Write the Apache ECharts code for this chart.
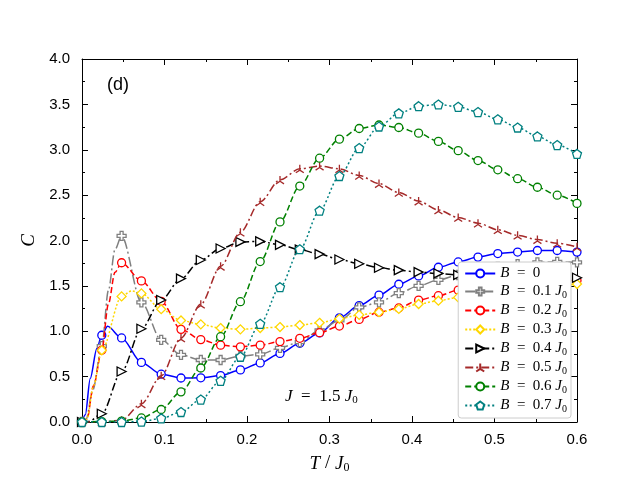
<!DOCTYPE html>
<html>
<head>
<meta charset="utf-8">
<script src="https://cdn.jsdelivr.net/npm/echarts@6/dist/echarts.min.js"></script>
<style>
  html, body { margin: 0; padding: 0; background: #fff; }
  #chart { width: 641px; height: 479px; }
</style>
</head>
<body>
<div id="chart"></div>
<script>
// temperatures (T / J0) where the markers sit
const tMarks = [0.000, 0.024, 0.048, 0.072, 0.096, 0.120, 0.144, 0.168, 0.192, 0.216,
                0.240, 0.264, 0.288, 0.312, 0.336, 0.360, 0.384, 0.408, 0.432, 0.456,
                0.480, 0.504, 0.528, 0.552, 0.576, 0.600];

// specific heat C, one array per field B
const cB00 = [0, 0.956, 0.926, 0.657, 0.527, 0.485, 0.487, 0.512, 0.574, 0.651,
              0.756, 0.868, 0.981, 1.148, 1.283, 1.398, 1.518, 1.610, 1.705, 1.764,
              1.817, 1.856, 1.873, 1.890, 1.890, 1.872];
const cB01 = [0, 0.835, 2.050, 1.319, 0.905, 0.740, 0.683, 0.683, 0.727, 0.745,
              0.817, 0.880, 1.010, 1.119, 1.264, 1.319, 1.420, 1.500, 1.566, 1.620,
              1.670, 1.710, 1.740, 1.760, 1.765, 1.760];
const cB02 = [0, 0.792, 1.755, 1.555, 1.330, 1.021, 0.908, 0.847, 0.828, 0.847,
              0.886, 0.922, 0.984, 1.057, 1.130, 1.210, 1.257, 1.344, 1.392, 1.453,
              1.490, 1.520, 1.540, 1.550, 1.560, 1.560];
const cB03 = [0, 0.790, 1.384, 1.417, 1.243, 1.119, 1.076, 1.035, 1.021, 1.035,
              1.046, 1.068, 1.093, 1.137, 1.180, 1.210, 1.246, 1.300, 1.337, 1.373,
              1.410, 1.440, 1.460, 1.480, 1.500, 1.520];
const cB04 = [0, 0.091, 0.556, 1.028, 1.344, 1.580, 1.785, 1.912, 1.984, 1.990,
              1.952, 1.900, 1.850, 1.791, 1.744, 1.700, 1.673, 1.652, 1.637, 1.621,
              1.610, 1.600, 1.600, 1.595, 1.590, 1.590];
const cB05 = [0, 0, 0.020, 0.200, 0.509, 0.925, 1.297, 1.715, 2.090, 2.427,
              2.668, 2.790, 2.820, 2.790, 2.717, 2.627, 2.529, 2.434, 2.336, 2.253,
              2.191, 2.118, 2.057, 2.010, 1.970, 1.930];
const cB06 = [0, 0.005, 0.010, 0.045, 0.138, 0.332, 0.595, 0.940, 1.326, 1.768,
              2.205, 2.600, 2.907, 3.117, 3.234, 3.273, 3.245, 3.183, 3.092, 2.990,
              2.881, 2.779, 2.681, 2.587, 2.499, 2.409];
const cB07 = [0, 0, 0, 0.005, 0.040, 0.110, 0.247, 0.454, 0.719, 1.082,
              1.486, 1.904, 2.329, 2.711, 3.019, 3.256, 3.401, 3.480, 3.499, 3.473,
              3.415, 3.335, 3.245, 3.147, 3.052, 2.954];

// extra points between markers (line only), [T, C]
const xB00 = [[0.004, 0.08], [0.010, 0.48], [0.018, 0.81], [0.031, 1.054]];
const xB01 = [[0.005, 0.03], [0.013, 0.35], [0.032, 1.45], [0.040, 1.90]];
const xB02 = [[0.006, 0.03], [0.014, 0.40], [0.032, 1.30], [0.040, 1.65]];
const xB03 = [[0.006, 0.03], [0.014, 0.40], [0.060, 1.445]];
const xB04 = [[0.008, 0.005]];

const names = ['B = 0', 'B = 0.1 J0', 'B = 0.2 J0', 'B = 0.3 J0',
               'B = 0.4 J0', 'B = 0.5 J0', 'B = 0.6 J0', 'B = 0.7 J0'];

const xTicks = ['0.0', '0.1', '0.2', '0.3', '0.4', '0.5', '0.6'];
const yTicks = ['0.0', '0.5', '1.0', '1.5', '2.0', '2.5', '3.0', '3.5', '4.0'];

const curves = [
  { c: cB00, extra: xB00, color: '#0000ff', dash: 'solid',          sym: 'circle' },
  { c: cB01, extra: xB01, color: '#808080', dash: [10, 3, 2, 3],    sym: 'path://M-1,-3 L1,-3 L1,-1 L3,-1 L3,1 L1,1 L1,3 L-1,3 L-1,1 L-3,1 L-3,-1 L-1,-1 Z', size: 9 },
  { c: cB02, extra: xB02, color: '#ff0000', dash: [6, 3],           sym: 'circle' },
  { c: cB03, extra: xB03, color: '#ffd700', dash: [2, 2],           sym: 'diamond', size: 9 },
  { c: cB04, extra: xB04, color: '#000000', dash: [8, 3, 2, 3],     sym: 'path://M1,0 L-1,-1 L-1,1 Z', size: 9 },
  { c: cB05, extra: [],   color: '#a52a2a', dash: [8, 3, 2, 3],     sym: 'path://M0,0 L0,-1 M0,0 L-0.866,0.5 M0,0 L0.866,0.5', size: 8 },
  { c: cB06, extra: [],   color: '#008000', dash: [6, 3],           sym: 'circle' },
  { c: cB07, extra: [],   color: '#008080', dash: [2, 2.5],         sym: 'path://M0,-1 L0.951,-0.309 L0.588,0.809 L-0.588,0.809 L-0.951,-0.309 Z', size: 9 }
];

const serif = 'Liberation Serif';
const mathRich = {
  i: { fontFamily: serif, fontStyle: 'italic', fontSize: 15, color: '#000' },
  n: { fontFamily: serif, fontSize: 15, color: '#000' },
  s: { fontFamily: serif, fontSize: 10, color: '#000', verticalAlign: 'bottom', padding: [7, 0, 0, 0] }
};

function mathLabel(name) {
  // 'B = 0.1 J0' -> rich text with italic letters and subscript
  const parts = name.split(' ');
  let out = '{i|' + parts[0] + '}{n|  =  ' + parts[2] + '}';
  if (parts[3]) out += '{n| }{i|J}{s|0}';
  return out;
}

const series = curves.map(function (cv, idx) {
  const data = tMarks.map(function (t, k) { return { value: [t, cv.c[k]] }; });
  cv.extra.forEach(function (p) { data.push({ value: p, symbol: 'none' }); });
  data.sort(function (a, b) { return a.value[0] - b.value[0]; });
  return {
    name: names[idx],
    type: 'line',
    data: data,
    smooth: 0.3,
    smoothMonotone: 'x',
    symbol: cv.sym,
    symbolSize: cv.size || 8,
    showAllSymbol: true,
    lineStyle: { color: cv.color, width: 1.5, type: cv.dash },
    itemStyle: { color: '#fff', borderColor: cv.color, borderWidth: 1.3 },
    emphasis: { disabled: true },
    z: 2 + idx * 0.01
  };
});

const axisLine = { show: true, onZero: false, lineStyle: { color: '#000', width: 1 } };
const tick = { show: true, inside: true, length: 6, lineStyle: { color: '#000' } };
const minor = { show: true, splitNumber: 2, length: 3, lineStyle: { color: '#000' } };
const tickFont = { fontFamily: 'Liberation Sans', fontSize: 15, color: '#000' };

const chart = echarts.init(document.getElementById('chart'));
chart.setOption({
  animation: false,
  backgroundColor: '#fff',
  grid: { left: 82, right: 64, top: 59, bottom: 53 },
  xAxis: [{
    type: 'value', min: 0, max: 0.6, interval: 0.1,
    axisLine: axisLine, axisTick: tick, minorTick: minor, splitLine: { show: false },
    axisLabel: Object.assign({ margin: 10, formatter: function (v) { return xTicks[Math.round(v * 10)]; } }, tickFont),
    name: '{i|T}{n| / }{i|J}{s|0}', nameLocation: 'middle', nameGap: 31,
    nameTextStyle: { rich: { i: Object.assign({}, mathRich.i, { fontSize: 19 }), n: Object.assign({}, mathRich.n, { fontSize: 19 }), s: Object.assign({}, mathRich.s, { fontSize: 12, padding: [9, 0, 0, 0] }) } }
  }, {
    type: 'value', position: 'top', min: 0, max: 0.6, interval: 0.1,
    axisLine: axisLine, axisTick: tick, minorTick: minor, splitLine: { show: false },
    axisLabel: { show: false }
  }],
  yAxis: [{
    type: 'value', min: 0, max: 4, interval: 0.5,
    axisLine: axisLine, axisTick: tick, minorTick: minor, splitLine: { show: false },
    axisLabel: Object.assign({ margin: 12, formatter: function (v) { return yTicks[Math.round(v * 2)]; } }, tickFont),
    name: 'C', nameLocation: 'middle', nameGap: 41, nameRotate: 90,
    nameTextStyle: { fontFamily: serif, fontStyle: 'italic', fontSize: 19, color: '#000' }
  }, {
    type: 'value', position: 'right', min: 0, max: 4, interval: 0.5,
    axisLine: axisLine, axisTick: tick, minorTick: minor, splitLine: { show: false },
    axisLabel: { show: false }
  }],
  legend: {
    orient: 'vertical', right: 70, bottom: 61,
    backgroundColor: '#fff', borderColor: '#cccccc', borderWidth: 1, borderRadius: 3,
    padding: [4, 4, 4, 6], itemGap: 3, itemWidth: 30, itemHeight: 10,
    data: names,
    formatter: mathLabel,
    textStyle: { rich: mathRich }
  },
  graphic: [
    { type: 'text', left: 107, top: 76, style: { text: '(d)', fontFamily: 'Liberation Sans', fontSize: 18, fill: '#000' } },
    { type: 'text', left: 285, top: 388, style: { text: '{i|J}{n|  =  1.5 }{i|J}{s|0}', rich: {
      i: Object.assign({}, mathRich.i, { fontSize: 17 }), n: Object.assign({}, mathRich.n, { fontSize: 17 }),
      s: Object.assign({}, mathRich.s, { fontSize: 11, padding: [8, 0, 0, 0] }) } } }
  ],
  series: series
});
</script>
</body>
</html>
